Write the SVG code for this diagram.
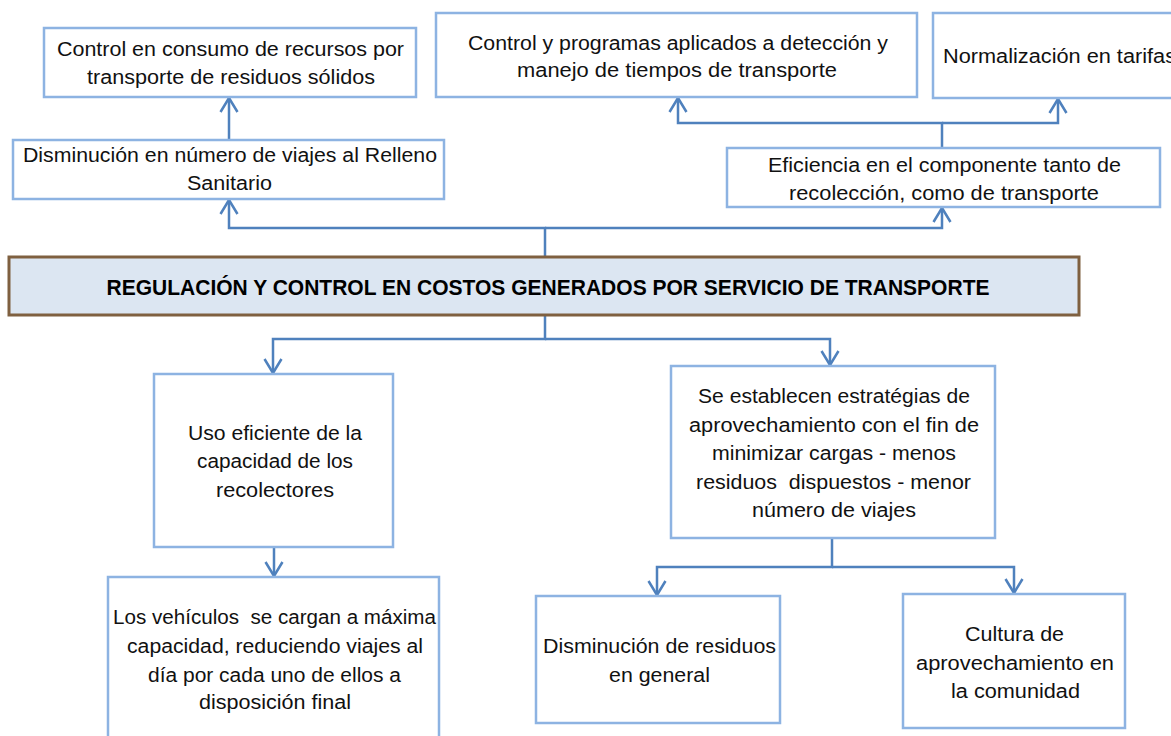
<svg xmlns="http://www.w3.org/2000/svg" width="1171" height="736" viewBox="0 0 1171 736">
<style>
.box{fill:#ffffff;stroke:#8db3e2;stroke-width:2.5}
.main{fill:#dce6f2;stroke:#7f6040;stroke-width:3}
.t{font-family:"Liberation Sans",Arial,sans-serif;font-size:19.5px;fill:#111;text-anchor:middle}
.ts{font-family:"Liberation Sans",Arial,sans-serif;font-size:19.5px;fill:#111}
.tb{font-family:"Liberation Sans",Arial,sans-serif;font-size:22px;font-weight:bold;fill:#000;text-anchor:middle}
.c{fill:none;stroke:#4f81bd;stroke-width:2.5}
</style>
<defs>
<marker id="arr" markerUnits="userSpaceOnUse" markerWidth="20" markerHeight="20" viewBox="-16 -10 18 20" refX="0" refY="0" orient="auto">
<path d="M-14,-8.5 L0,0 L-14,8.5" fill="none" stroke="#4f81bd" stroke-width="2.5"/>
</marker>
</defs>
<rect width="1171" height="736" fill="#ffffff"/>
<g id="connectors">
<path class="c" d="M229,140 L229,98" marker-end="url(#arr)"/>
<path class="c" d="M545,257 L545,228 L229,228 L229,200" marker-end="url(#arr)"/>
<path class="c" d="M545,228 L942,228 L942,208" marker-end="url(#arr)"/>
<path class="c" d="M942,148 L942,123 L678,123 L678,98" marker-end="url(#arr)"/>
<path class="c" d="M942,123 L1058,123 L1058,99" marker-end="url(#arr)"/>
<path class="c" d="M545,315 L545,339 L273,339 L273,373" marker-end="url(#arr)"/>
<path class="c" d="M545,339 L830,339 L830,365" marker-end="url(#arr)"/>
<path class="c" d="M274,547 L274,576" marker-end="url(#arr)"/>
<path class="c" d="M832,538 L832,567 L657,567 L657,595" marker-end="url(#arr)"/>
<path class="c" d="M832,567 L1014,567 L1014,593" marker-end="url(#arr)"/>
</g>
<g id="n1">
<rect class="box" x="44" y="28" width="372" height="69"/>
<text class="t" x="230.5" y="56" textLength="347" lengthAdjust="spacingAndGlyphs">Control en consumo de recursos por</text>
<text class="t" x="231" y="84" textLength="288" lengthAdjust="spacingAndGlyphs">transporte de residuos sólidos</text>
</g>
<g id="n2">
<rect class="box" x="13" y="140" width="431" height="59"/>
<text class="t" x="230" y="162" textLength="414" lengthAdjust="spacingAndGlyphs">Disminución en número de viajes al Relleno</text>
<text class="t" x="229.5" y="190" textLength="85" lengthAdjust="spacingAndGlyphs">Sanitario</text>
</g>
<g id="n3">
<rect class="box" x="436" y="13" width="481" height="84"/>
<text class="t" x="678" y="50" textLength="420" lengthAdjust="spacingAndGlyphs">Control y programas aplicados a detección y</text>
<text class="t" x="677" y="77" textLength="320" lengthAdjust="spacingAndGlyphs">manejo de tiempos de transporte</text>
</g>
<g id="n4">
<rect class="box" x="933" y="13" width="260" height="85"/>
<text class="ts" x="943" y="63" textLength="233" lengthAdjust="spacingAndGlyphs">Normalización en tarifas</text>
</g>
<g id="n5">
<rect class="box" x="727" y="148" width="433" height="59"/>
<text class="t" x="944.5" y="172" textLength="353" lengthAdjust="spacingAndGlyphs">Eficiencia en el componente tanto de</text>
<text class="t" x="944" y="200" textLength="310" lengthAdjust="spacingAndGlyphs">recolección, como de transporte</text>
</g>
<g id="main">
<rect class="main" x="9" y="257" width="1070" height="58"/>
<text class="tb" x="548" y="295" textLength="883" lengthAdjust="spacingAndGlyphs">REGULACIÓN Y CONTROL EN COSTOS GENERADOS POR SERVICIO DE TRANSPORTE</text>
</g>
<g id="n6">
<rect class="box" x="154" y="374" width="239" height="173"/>
<text class="t" x="275" y="440" textLength="174" lengthAdjust="spacingAndGlyphs">Uso eficiente de la</text>
<text class="t" x="275" y="468" textLength="156" lengthAdjust="spacingAndGlyphs">capacidad de los</text>
<text class="t" x="275" y="497" textLength="118" lengthAdjust="spacingAndGlyphs">recolectores</text>
</g>
<g id="n7">
<rect class="box" x="108" y="577" width="331" height="170"/>
<text class="t" x="274.5" y="624" textLength="323" lengthAdjust="spacingAndGlyphs" xml:space="preserve">Los vehículos  se cargan a máxima</text>
<text class="t" x="275" y="653" textLength="296" lengthAdjust="spacingAndGlyphs">capacidad, reduciendo viajes al</text>
<text class="t" x="274.5" y="682" textLength="253" lengthAdjust="spacingAndGlyphs">día por cada uno de ellos a</text>
<text class="t" x="275" y="709" textLength="152" lengthAdjust="spacingAndGlyphs">disposición final</text>
</g>
<g id="n8">
<rect class="box" x="671" y="366" width="324" height="172"/>
<text class="t" x="834" y="403" textLength="272" lengthAdjust="spacingAndGlyphs">Se establecen estratégias de</text>
<text class="t" x="834" y="432" textLength="290" lengthAdjust="spacingAndGlyphs">aprovechamiento con el fin de</text>
<text class="t" x="834" y="460" textLength="244" lengthAdjust="spacingAndGlyphs">minimizar cargas - menos</text>
<text class="t" x="833.5" y="489" textLength="275" lengthAdjust="spacingAndGlyphs" xml:space="preserve">residuos  dispuestos - menor</text>
<text class="t" x="834" y="517" textLength="164" lengthAdjust="spacingAndGlyphs">número de viajes</text>
</g>
<g id="n9">
<rect class="box" x="536" y="596" width="244" height="127"/>
<text class="t" x="659.5" y="653" textLength="233" lengthAdjust="spacingAndGlyphs">Disminución de residuos</text>
<text class="t" x="659.5" y="682" textLength="101" lengthAdjust="spacingAndGlyphs">en general</text>
</g>
<g id="n10">
<rect class="box" x="903" y="594" width="222" height="134"/>
<text class="t" x="1014.5" y="641" textLength="99" lengthAdjust="spacingAndGlyphs">Cultura de</text>
<text class="t" x="1015" y="670" textLength="198" lengthAdjust="spacingAndGlyphs">aprovechamiento en</text>
<text class="t" x="1015.5" y="698" textLength="129" lengthAdjust="spacingAndGlyphs">la comunidad</text>
</g>
</svg>
